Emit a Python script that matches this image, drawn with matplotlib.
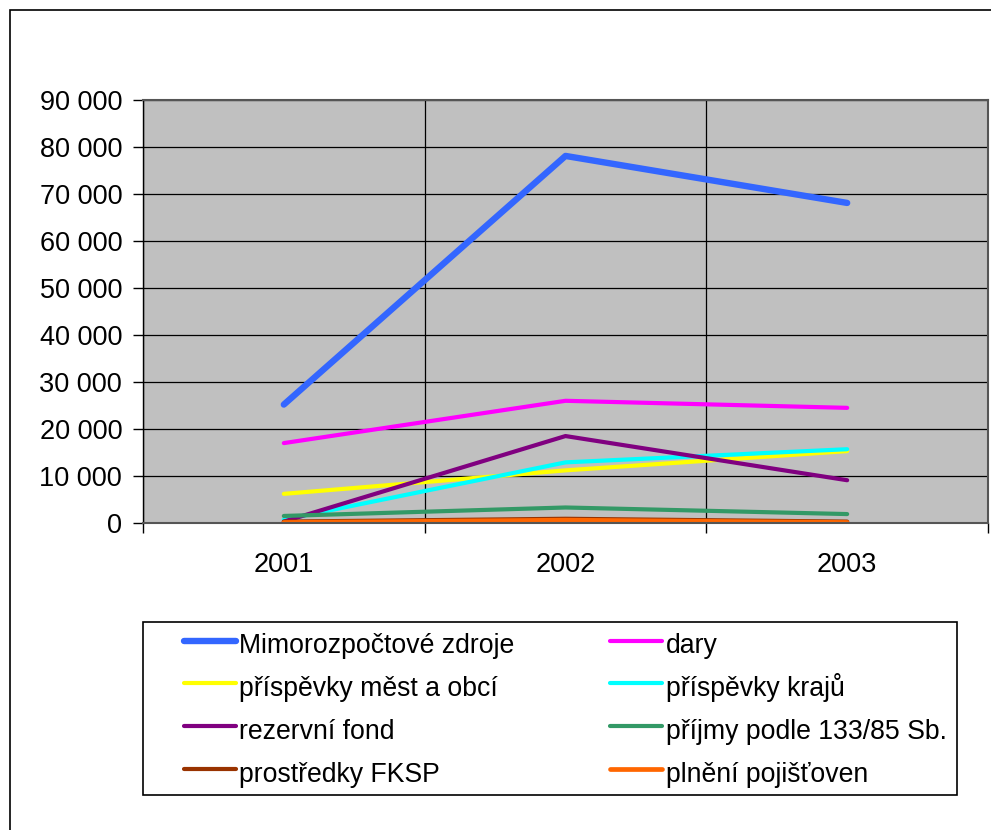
import matplotlib.pyplot as plt
from matplotlib.patches import Rectangle
from matplotlib.ticker import FuncFormatter, FixedLocator

plt.rcParams['font.family'] = ['Liberation Sans', 'DejaVu Sans']

years = ["2001", "2002", "2003"]

mimorozpoctove = [25200, 78100, 68100]
dary = [17000, 26000, 24500]
prisp_mest = [6200, 11200, 15300]
prisp_kraju = [700, 12900, 15700]
rezervni_fond = [300, 18500, 9100]
prijmy_133 = [1500, 3300, 1900]
fksp = [300, 900, 300]
pojistovny = [100, 600, 100]

series = [
    ("Mimorozpočtové zdroje", mimorozpoctove, "#3366FF", 4.6),
    ("dary", dary, "#FF00FF", 3.0),
    ("příspěvky měst a obcí", prisp_mest, "#FFFF00", 3.0),
    ("příspěvky krajů", prisp_kraju, "#00FFFF", 3.0),
    ("rezervní fond", rezervni_fond, "#800080", 3.0),
    ("příjmy podle 133/85 Sb.", prijmy_133, "#339966", 3.0),
    ("prostředky FKSP", fksp, "#993300", 3.0),
    ("plnění pojišťoven", pojistovny, "#FF6600", 3.4),
]

W, H = 991, 830
fig = plt.figure(figsize=(W / 100, H / 100), dpi=100)

# outer chart border (right and bottom edges are cut off)
fig.add_artist(Rectangle((10 / W, -0.1), 1.2, 1 - 10 / H + 0.1, transform=fig.transFigure,
                         fill=False, edgecolor="black", linewidth=1.2))

ax = fig.add_axes([143 / W, 1 - 523 / H, (988 - 143) / W, 423 / H])
ax.set_facecolor("#C0C0C0")

x = list(range(len(years)))
handles = []
for label, vals, color, lw in series:
    h, = ax.plot(x, vals, color=color, linewidth=lw, label=label,
                 solid_capstyle="round", solid_joinstyle="round")
    handles.append(h)

ax.set_xlim(-0.5, len(years) - 0.5)
ax.set_ylim(0, 90000)
ax.set_yticks(range(0, 90001, 10000))
ax.yaxis.set_major_formatter(FuncFormatter(lambda v, p: f"{int(v):,}".replace(",", " ")))

ax.xaxis.set_major_locator(FixedLocator([-0.5, 0.5, 1.5, 2.5]))
ax.xaxis.set_minor_locator(FixedLocator(x))
ax.set_xticklabels([], minor=False)
ax.set_xticklabels(years, minor=True)
ax.tick_params(axis="x", which="major", length=7, width=1, color="black")
ax.tick_params(axis="x", which="minor", length=0, pad=21, labelsize=19.5)
ax.tick_params(axis="y", length=7, width=1, pad=8, labelsize=19.5)

ax.grid(True, which="major", color="black", linewidth=0.9)
ax.set_axisbelow(True)
for side in ["top", "right", "bottom", "left"]:
    ax.spines[side].set_color("#555555")
    ax.spines[side].set_linewidth(1.5)
ax.spines["left"].set_color("black")
ax.spines["left"].set_linewidth(1)

# legend box
fig.add_artist(Rectangle((143 / W, 1 - 795 / H), (957 - 143) / W, (795 - 622) / H,
                         transform=fig.transFigure, fill=False, edgecolor="black", linewidth=1.2))
order = [0, 2, 4, 6, 1, 3, 5, 7]
fig.legend([handles[i] for i in order], [handles[i].get_label() for i in order],
           loc="upper left", bbox_to_anchor=(184 / W, 1 - 628 / H), ncol=2, frameon=False,
           fontsize=19.2, handlelength=1.95, handleheight=1.55, handletextpad=0.12,
           labelspacing=0.35, columnspacing=3.6, borderpad=0, borderaxespad=0)

fig.savefig("out.png", dpi=100)
